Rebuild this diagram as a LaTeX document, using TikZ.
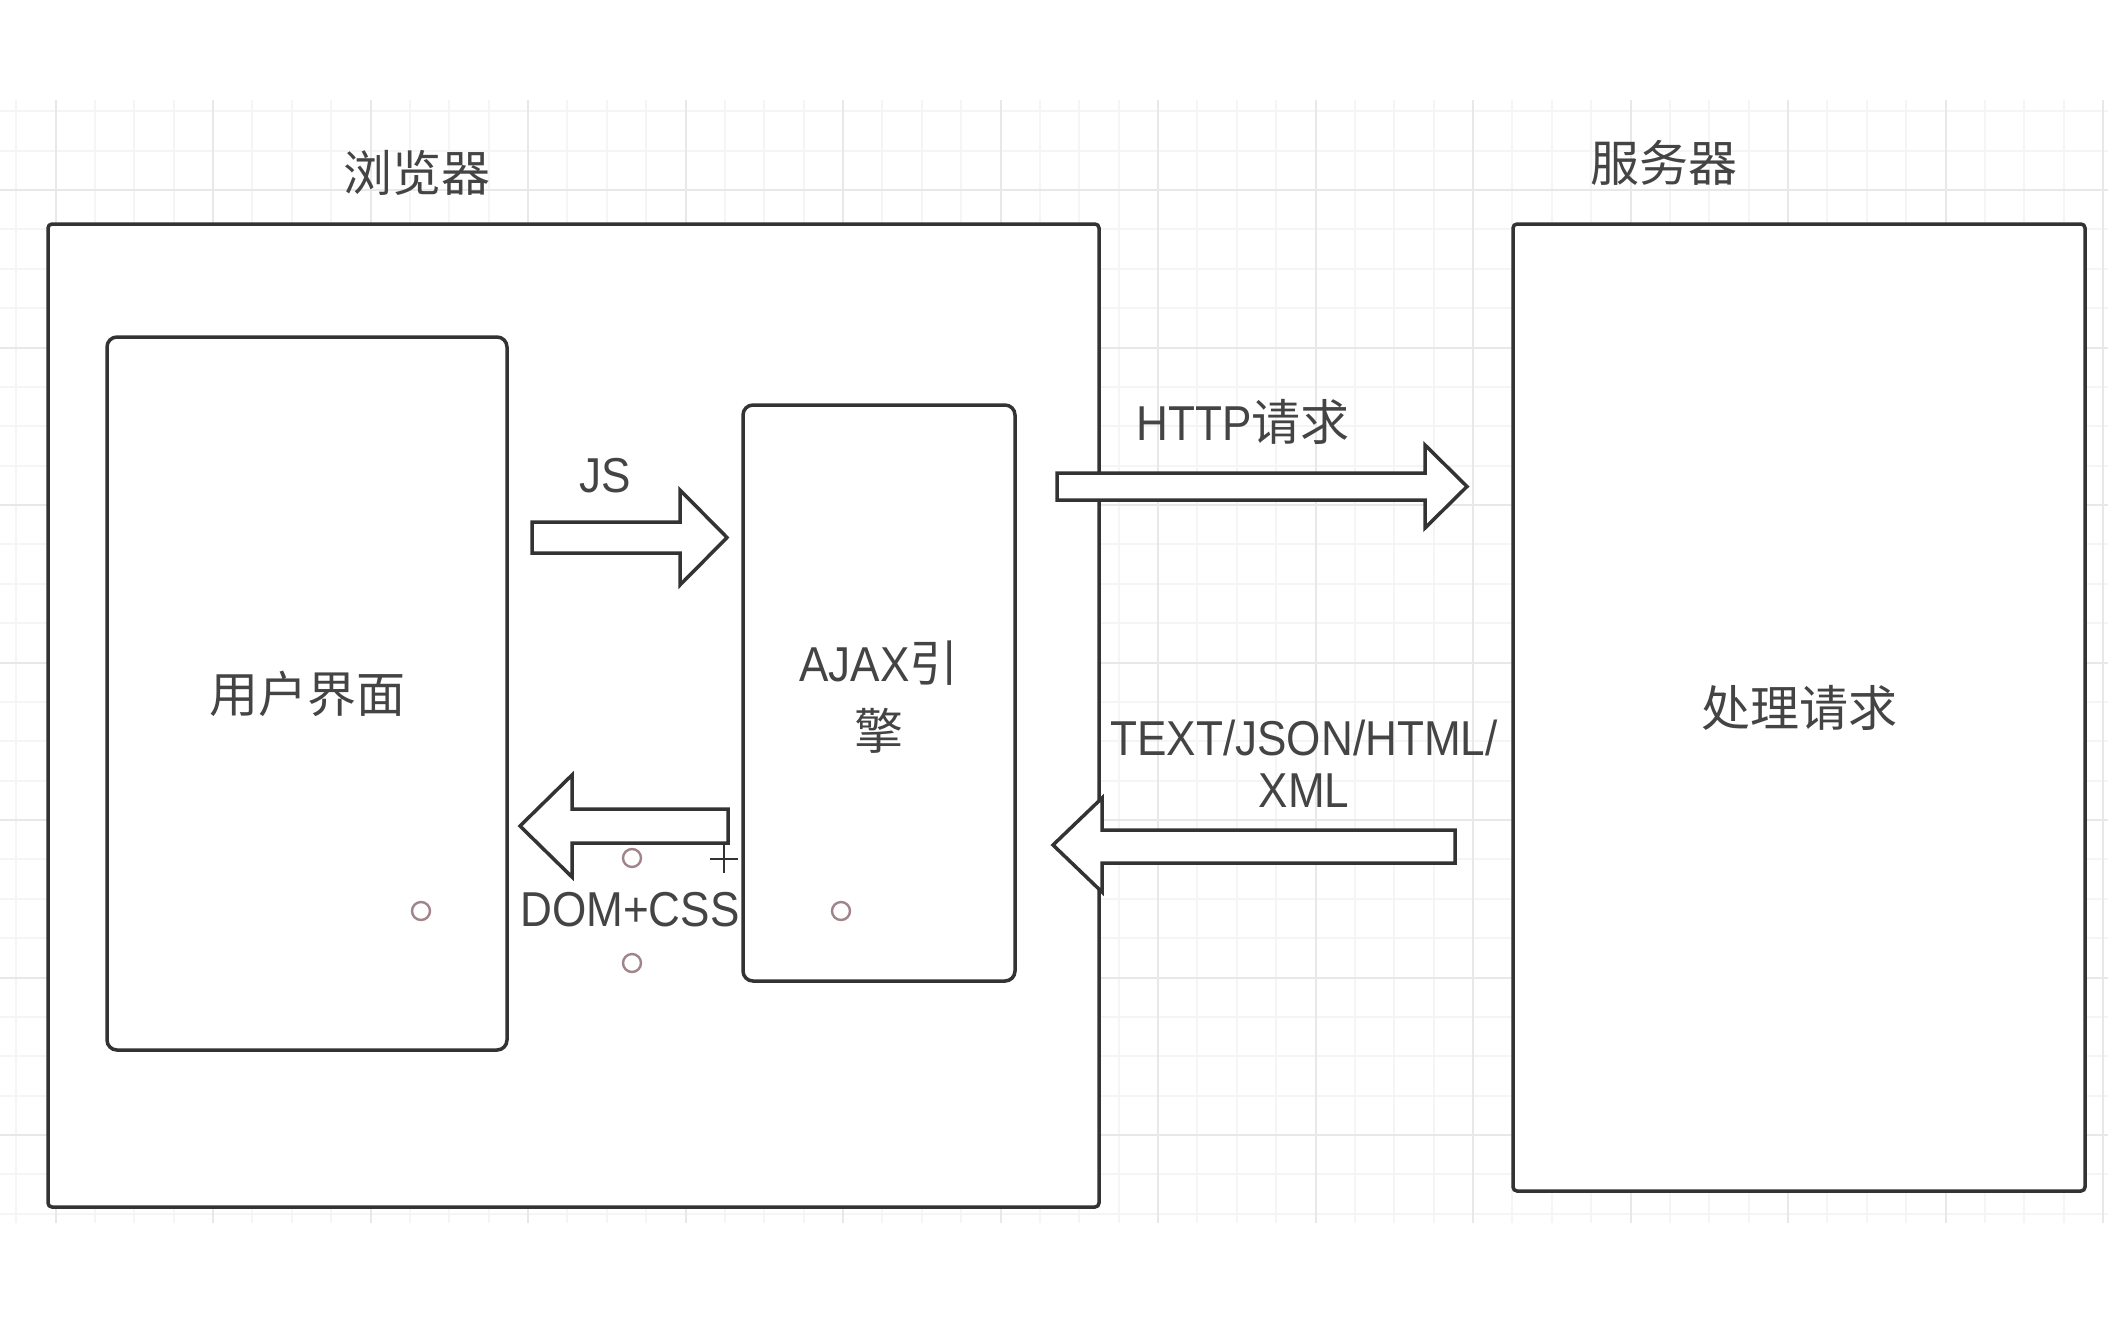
\documentclass[tikz,border=0pt]{standalone}
\usepackage{fontspec}
\setmainfont[FakeStretch=0.9]{Liberation Sans}
\newfontfamily\cjk{Noto Sans CJK SC}
\usepackage{tikz}
\usetikzlibrary{positioning,calc}

\definecolor{linegray}{HTML}{333333}
\definecolor{txtgray}{HTML}{444444}
\definecolor{gridlight}{HTML}{F5F5F5}
\definecolor{griddark}{HTML}{E8E8E8}
\definecolor{handlered}{HTML}{A0848A}

\begin{document}
\begin{tikzpicture}[x=0.5pt,y=-0.5pt,line width=1.75pt,
  every node/.style={text=txtgray,align=center,font=\fontsize{24.5}{30}\selectfont},
  frame/.style={draw=linegray,fill=white,rounded corners=2pt},
  panel/.style={draw=linegray,fill=white,rounded corners=5pt},
  fatarrow/.style={draw=linegray,fill=white,line join=miter},
  handle/.style={draw=handlered,line width=1.2pt,circle,inner sep=0pt,minimum size=9pt},
  minorline/.style={draw=gridlight,line width=1pt},
  majorline/.style={draw=griddark,line width=1pt}
]
\useasboundingbox (0,0) rectangle (2108,1318);

% grid
\begin{scope}
\clip (0,100) rectangle (2108,1223);
\foreach \i in {-1,0,...,52}
  \draw[minorline] ({55.5+39.375*\i},100) -- ({55.5+39.375*\i},1223);
\foreach \j in {2,3,...,30}
  \draw[minorline] (0,{32.5+39.375*\j}) -- (2108,{32.5+39.375*\j});
\foreach \i in {0,1,...,13}
  \draw[majorline] ({55.5+157.5*\i},100) -- ({55.5+157.5*\i},1223);
\foreach \j in {1,2,...,7}
  \draw[majorline] (0,{32.5+157.5*\j}) -- (2108,{32.5+157.5*\j});
\end{scope}

% boxes
\node[frame,minimum width=525.5pt,minimum height=491.5pt] (browser) at (573.5,715.5) {};
\node[frame,minimum width=286pt,minimum height=483.5pt] (server) at (1799,707.5) {\cjk 处理请求};
\node[panel,minimum width=200pt,minimum height=356.5pt] (ui) at (307,693.5) {\cjk 用户界面};
\node[panel,minimum width=136pt,minimum height=288pt] (ajax) at (879,693) {};
\node[font=\fontsize{24.5}{34}\selectfont] (ajax text) at ($(ajax.center)+(0,4)$) {AJAX{\cjk 引}\\{\cjk 擎}};

\node (browser title) at (417,173) {\cjk 浏览器};
\node (server title) at (1664,163) {\cjk 服务器};

% block arrows
\coordinate (js) at (532,537.5);
\coordinate (http) at (1057,486.5);
\coordinate (resp) at (1455,846.5);
\coordinate (dom) at (728,826);
\draw[fatarrow] (js) ++(0,-15.5) -- ++(148,0) -- ++(0,-32) -- ++(47,47.5)
  -- ++(-47,47.5) -- ++(0,-32) -- ++(-148,0) -- cycle;
\draw[fatarrow] (http) ++(0,-13.5) -- ++(368,0) -- ++(0,-28) -- ++(42,41.5)
  -- ++(-42,41.5) -- ++(0,-28) -- ++(-368,0) -- cycle;
\draw[fatarrow] (resp) ++(0,-16.5) -- ++(-353,0) -- ++(0,-32) -- ++(-49,47)
  -- ++(49,47) -- ++(0,-29) -- ++(353,0) -- cycle;
\draw[fatarrow] (dom) ++(0,-17) -- ++(-156,0) -- ++(0,-34) -- ++(-52,51)
  -- ++(52,51) -- ++(0,-34) -- ++(156,0) -- cycle;

% labels
\node (js label) at (605,476) {JS};
\node (http label) at (1243,422) {HTTP{\cjk 请求}};
\node[font=\fontsize{24.5}{26}\selectfont] (resp label) at (1304,764) {TEXT/JSON/HTML/\\XML};
\node (dom label) at (630,910) {DOM+CSS};

% selection handles
\node[handle] (h1) at (632,858) {};
\node[handle] (h2) at (632,963) {};
\node[handle] (h3) at (421,911) {};
\node[handle] (h4) at (841,911) {};
\draw[linegray,line width=0.8pt] (710,859) -- (738,859) (724,845) -- (724,873);
\end{tikzpicture}
\end{document}
